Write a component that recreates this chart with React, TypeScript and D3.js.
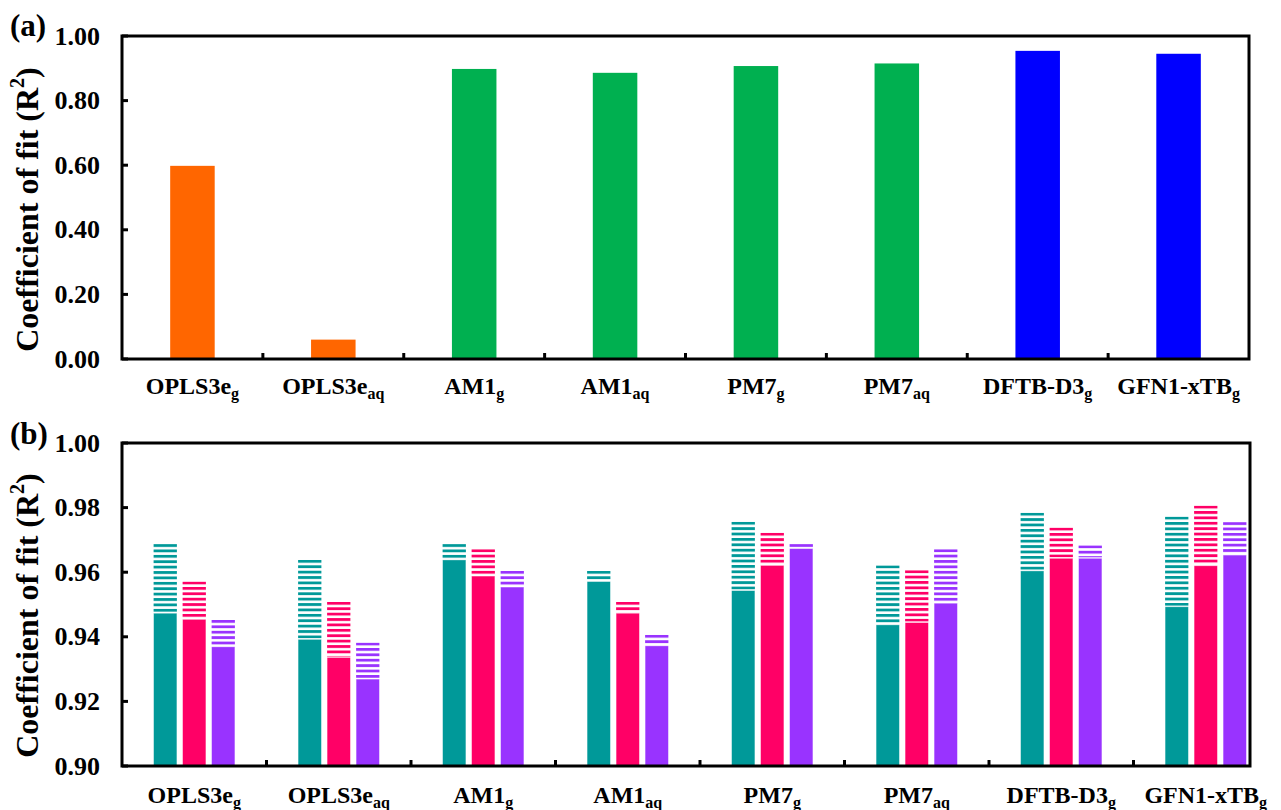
import React from "react";
import { scaleBand, scaleLinear, format } from "d3";

// categories (method + phase subscript)
const methods = ["OPLS3e", "OPLS3e", "AM1", "AM1", "PM7", "PM7", "DFTB-D3", "GFN1-xTB"];
const phases = ["g", "aq", "g", "aq", "g", "aq", "g", "g"];

// panel (a): overall coefficient of fit
const overallR2 = [0.598, 0.06, 0.898, 0.886, 0.907, 0.915, 0.954, 0.945];
const overallColors = ["#FF6600", "#FF6600", "#00B050", "#00B050", "#00B050", "#00B050", "#0000FF", "#0000FF"];
const ticksA = [0, 0.2, 0.4, 0.6, 0.8, 1.0];

// panel (b): three subsets, solid = lower value, hatched = upper value
const seriesKeys = ["teal", "pink", "purple"];
const tealLow = [0.9473, 0.9392, 0.9638, 0.9571, 0.9543, 0.9437, 0.9604, 0.9493];
const tealHigh = [0.9687, 0.9638, 0.9687, 0.9604, 0.9756, 0.9621, 0.9784, 0.9772];
const pinkLow = [0.9454, 0.9336, 0.9588, 0.9473, 0.9621, 0.9444, 0.9643, 0.962];
const pinkHigh = [0.9571, 0.9508, 0.9671, 0.9508, 0.9722, 0.9606, 0.9738, 0.9806];
const purpleLow = [0.9369, 0.9269, 0.9554, 0.9372, 0.9673, 0.9504, 0.9643, 0.9653];
const purpleHigh = [0.9452, 0.9382, 0.9604, 0.9406, 0.9687, 0.9671, 0.9683, 0.9755];
const ticksB = [0.9, 0.92, 0.94, 0.96, 0.98, 1.0];

const seriesColors: Record<string, string> = { teal: "#009999", pink: "#FF0066", purple: "#9933FF" };
const lows: Record<string, number[]> = { teal: tealLow, pink: pinkLow, purple: purpleLow };
const highs: Record<string, number[]> = { teal: tealHigh, pink: pinkHigh, purple: purpleHigh };

const FONT = "'Liberation Serif', 'Times New Roman', serif";
const ids = methods.map((_, i) => String(i));
const fmt = format(".2f");

const Label = ({ x, y, i }: { x: number; y: number; i: number }) => (
  <text x={x} y={y} textAnchor="middle" fontFamily={FONT} fontWeight="bold" fontSize={24}>
    {methods[i]}
    <tspan dy={5} fontSize={16}>{phases[i]}</tspan>
  </text>
);

const YTitle = ({ x, y }: { x: number; y: number }) => (
  <text
    transform={`translate(${x},${y}) rotate(-90)`}
    textAnchor="middle"
    dominantBaseline="central"
    fontFamily={FONT}
    fontWeight="bold"
    fontSize={32}
  >
    Coefficient of fit (R
    <tspan dy={-10} fontSize={20}>2</tspan>
    <tspan dy={10}>)</tspan>
  </text>
);

export default function App() {
  // ---------- panel (a)
  const a = { left: 122, right: 1249, top: 36, bottom: 359 };
  const xA = scaleBand().domain(ids).range([a.left, a.right]).paddingInner(0.684).paddingOuter(0.342);
  const stepA = xA.step();
  const yA = scaleLinear().domain([0, 1]).range([a.bottom, a.top]);

  // ---------- panel (b)
  const b = { left: 122, right: 1250, top: 443, bottom: 766 };
  const xB = scaleBand().domain(ids).range([b.left, b.left + 8 * 144.5]);
  const x1 = scaleBand().domain(seriesKeys).range([-40.65, 40.65]).paddingInner(0.197);
  const yB = scaleLinear().domain([0.9, 1.0]).range([b.bottom, b.top]);

  const frame = (p: { left: number; right: number; top: number; bottom: number }) => (
    <rect x={p.left} y={p.top} width={p.right - p.left} height={p.bottom - p.top} fill="none" stroke="#000" strokeWidth={3} />
  );

  return (
    <svg width={1281} height={810} style={{ position: "absolute", left: 0, top: 0 }}>
      <rect width={1281} height={810} fill="#fff" />
      <defs>
        <clipPath id="clipB">
          <rect x={b.left} y={b.top} width={b.right - b.left} height={b.bottom - b.top} />
        </clipPath>
        {seriesKeys.map((s) =>
          ids.map((id, i) => (
            <pattern
              key={s + id}
              id={`hatch-${s}-${id}`}
              patternUnits="userSpaceOnUse"
              x={0}
              y={yB(highs[s][i])}
              width={8}
              height={5.4}
            >
              <rect x={0} y={0} width={8} height={2.8} fill={seriesColors[s]} />
            </pattern>
          ))
        )}
      </defs>

      {/* ===== panel (a) ===== */}
      <text x={10} y={36} fontFamily={FONT} fontWeight="bold" fontSize={31}>(a)</text>
      {ids.map((id, i) => (
        <rect
          key={id}
          x={xA(id)}
          y={yA(overallR2[i])}
          width={xA.bandwidth()}
          height={yA(0) - yA(overallR2[i])}
          fill={overallColors[i]}
        />
      ))}
      {frame(a)}
      {ticksA.map((t) => (
        <g key={t}>
          <line x1={a.left} x2={a.left + 6} y1={yA(t)} y2={yA(t)} stroke="#000" strokeWidth={3} />
          <text x={100} y={yA(t)} textAnchor="end" dominantBaseline="central" fontFamily={FONT} fontWeight="bold" fontSize={26}>
            {fmt(t)}
          </text>
        </g>
      ))}
      {ids.slice(1).map((id) => (
        <line key={id} x1={xA(id)! - (stepA - xA.bandwidth()) / 2} x2={xA(id)! - (stepA - xA.bandwidth()) / 2} y1={a.bottom} y2={a.bottom - 6} stroke="#000" strokeWidth={3} />
      ))}
      {ids.map((id, i) => (
        <Label key={id} i={i} x={xA(id)! + xA.bandwidth() / 2} y={a.bottom + 35} />
      ))}
      <YTitle x={27} y={(a.top + a.bottom) / 2 + 12} />

      {/* ===== panel (b) ===== */}
      <text x={10} y={444} fontFamily={FONT} fontWeight="bold" fontSize={31}>(b)</text>
      <g clipPath="url(#clipB)">
        {ids.map((id, i) => {
          const cx = xB(id)! + xB.bandwidth() / 2;
          return seriesKeys.map((s) => {
            const bx = cx + x1(s)!;
            const lo = yB(lows[s][i]);
            const hi = yB(highs[s][i]);
            return (
              <g key={s + id}>
                <rect x={bx} y={hi} width={x1.bandwidth()} height={lo - hi - 1} fill={`url(#hatch-${s}-${id})`} />
                <rect x={bx} y={lo} width={x1.bandwidth()} height={yB(0.9) - lo} fill={seriesColors[s]} stroke="#fff" strokeOpacity={0.45} strokeWidth={0.8} />
              </g>
            );
          });
        })}
      </g>
      {frame(b)}
      {ticksB.map((t) => (
        <g key={t}>
          <line x1={b.left} x2={b.left + 6} y1={yB(t)} y2={yB(t)} stroke="#000" strokeWidth={3} />
          <text x={100} y={yB(t)} textAnchor="end" dominantBaseline="central" fontFamily={FONT} fontWeight="bold" fontSize={26}>
            {fmt(t)}
          </text>
        </g>
      ))}
      {ids.slice(1).map((id) => (
        <line key={id} x1={xB(id)} x2={xB(id)} y1={b.bottom} y2={b.bottom - 6} stroke="#000" strokeWidth={3} />
      ))}
      {ids.map((id, i) => (
        <Label key={id} i={i} x={xB(id)! + xB.bandwidth() / 2} y={b.bottom + 37} />
      ))}
      <YTitle x={27} y={(b.top + b.bottom) / 2 + 11} />
    </svg>
  );
}
